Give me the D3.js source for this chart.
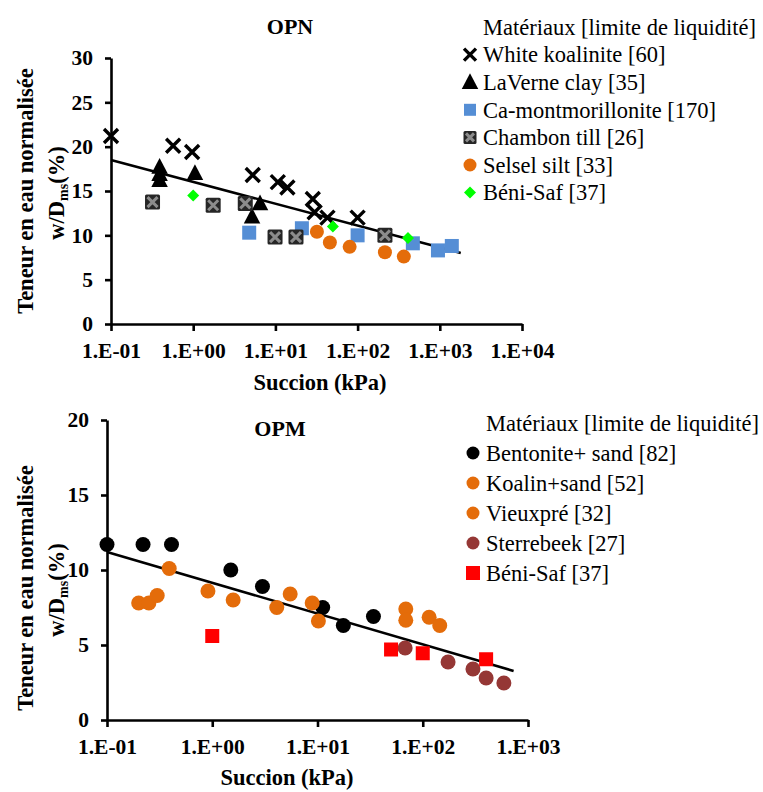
<!DOCTYPE html>
<html>
<head>
<meta charset="utf-8">
<script src="https://cdn.jsdelivr.net/npm/d3@7"></script>
<style>
  body { margin: 0; background: #fff; }
  text { font-family: "Liberation Serif", "Times New Roman", serif; }
</style>
</head>
<body>
<svg id="chart" width="763" height="792"></svg>
<script>
// OPN data : [succion kPa, w/Dms %]
const whiteKoalinite = [[0.1,21.2],[0.57,20.1],[0.97,19.4],[5.3,16.8],[10.7,16.0],[14,15.4],[28.5,14.1],[30,12.6],[43,12.0],[100,12.0]];
const laverneClay = [[0.39,17.7],[0.39,16.9],[0.39,16.2],[1.05,17.0],[6.5,13.6],[5.2,12.1]];
const caMontmorillonite = [[4.8,10.3],[21,10.8],[100,10.0],[470,9.1],[950,8.3],[1400,8.8]];
const chambonTill = [[0.32,13.75],[1.75,13.4],[4.3,13.6],[9.9,9.8],[17.8,9.8],[215,10.0]];
const selselSilt = [[32,10.4],[46,9.2],[80,8.7],[215,8.1],[365,7.6]];
const beniSafN = [[1.0,14.5],[50,11.0],[410,9.7]];
const trendN = [[0.1,18.5],[1800,8.0]];

// OPM data
const bentoniteSand = [[0.1,11.7],[0.22,11.7],[0.41,11.7],[1.5,10.0],[3.0,8.9],[11.2,7.5],[17.6,6.3],[34,6.9]];
const koalinSand = [[0.2,7.8],[0.25,7.8],[0.3,8.3],[0.39,10.1],[0.91,8.6],[1.58,8.0]];
const vieuxpre = [[4.1,7.5],[5.5,8.4],[8.9,7.8],[10.2,6.6],[69,7.4],[69,6.65],[115,6.85],[145,6.3]];
const sterrebeek = [[68,4.8],[174,3.87],[300,3.4],[400,2.8],[590,2.47]];
const beniSafM = [[1.0,5.6],[50,4.7],[100,4.45],[400,4.05]];
const trendM = [[0.1,11.2],[730,3.27]];

const ticksN_y = [0,5,10,15,20,25,30];
const ticksN_x = [0.1,1,10,100,1000,10000];
const ticksM_y = [0,5,10,15,20];
const ticksM_x = [0.1,1,10,100,1000];

const legendTitle = "Matériaux [limite de liquidité]";

const svg = d3.select('#chart');

const expFmt = v => {
  const e = Math.round(Math.log10(v));
  return "1.E" + (e < 0 ? "-" : "+") + String(Math.abs(e)).padStart(2, "0");
};

// marker drawing
const drawMarker = (g, type, color, size) => {
  const s = size;
  if (type === 'x') {
    g.append('path')
      .attr('d', `M${-s/2},${-s/2}L${s/2},${s/2}M${s/2},${-s/2}L${-s/2},${s/2}`)
      .attr('stroke', color).attr('stroke-width', 3.4).attr('fill', 'none');
  } else if (type === 'chambon') {
    g.append('rect').attr('x', -s/2).attr('y', -s/2).attr('width', s).attr('height', s)
      .attr('fill', '#262626').attr('rx', 1.5);
    const k = s/2 - 2.5;
    g.append('path')
      .attr('d', `M${-k},${-k}L${k},${k}M${k},${-k}L${-k},${k}`)
      .attr('stroke', '#8c8c8c').attr('stroke-width', 3).attr('fill', 'none');
  } else if (type === 'triangle') {
    g.append('path')
      .attr('d', `M0,${-s*0.6}L${s*0.55},${s*0.45}L${-s*0.55},${s*0.45}Z`)
      .attr('fill', color);
  } else if (type === 'square') {
    g.append('rect').attr('x', -s/2).attr('y', -s/2).attr('width', s).attr('height', s)
      .attr('fill', color);
  } else if (type === 'diamond') {
    g.append('path')
      .attr('d', `M0,${-s/2}L${s/2},0L0,${s/2}L${-s/2},0Z`)
      .attr('fill', color);
  } else if (type === 'circle') {
    g.append('circle').attr('r', s/2).attr('fill', color);
  }
};

const drawPanel = (p) => {
  const x = d3.scaleLog().domain(p.xDomain).range(p.xRange);
  const y = d3.scaleLinear().domain(p.yDomain).range(p.yRange);
  const g = svg.append('g');

  // axes
  const yAxis = g.append('g')
    .attr('transform', `translate(${p.xRange[0]},0)`)
    .call(d3.axisLeft(y).tickValues(p.yTicks).tickSize(6).tickPadding(12).tickSizeOuter(0));
  const xAxis = g.append('g')
    .attr('transform', `translate(0,${p.yRange[0]})`)
    .call(d3.axisBottom(x).tickValues(p.xTicks).tickFormat(expFmt).tickSize(7).tickPadding(12).tickSizeOuter(0));
  [xAxis, yAxis].forEach(a => {
    a.selectAll('path, line').attr('stroke', '#000').attr('stroke-width', 2.6);
    a.selectAll('text').attr('font-family', '"Liberation Serif", serif')
      .attr('font-weight', 'bold').attr('font-size', 21.5).attr('fill', '#000');
  });

  // trend line
  g.append('path')
    .datum(p.trend)
    .attr('d', d3.line().x(d => x(d[0])).y(d => y(d[1])))
    .attr('stroke', '#000').attr('stroke-width', 2.6).attr('fill', 'none');

  // points
  p.series.forEach(s => {
    s.data.forEach(d => {
      const m = g.append('g').attr('transform', `translate(${x(d[0])},${y(d[1])})`);
      drawMarker(m, s.type, s.color, s.size);
    });
  });

  // titles
  g.append('text').attr('x', p.titleX).attr('y', p.titleY)
    .attr('text-anchor', 'middle').attr('font-weight', 'bold').attr('font-size', 22)
    .text(p.title);
  g.append('text').attr('x', p.xTitleX).attr('y', p.xTitleY)
    .attr('text-anchor', 'middle').attr('font-weight', 'bold').attr('font-size', 22.5)
    .text('Succion (kPa)');
  g.append('text')
    .attr('transform', `translate(33,${p.yTitleY}) rotate(-90)`)
    .attr('text-anchor', 'middle').attr('font-weight', 'bold').attr('font-size', 22.5)
    .text('Teneur en eau normalisée');
  const yt2 = g.append('text')
    .attr('transform', `translate(64,${p.yTitleY + 2}) rotate(-90)`)
    .attr('text-anchor', 'middle').attr('font-weight', 'bold').attr('font-size', 22.5);
  yt2.append('tspan').text('w/D');
  yt2.append('tspan').attr('font-size', 14).attr('dy', 4).text('ms');
  yt2.append('tspan').attr('dy', -4).text('(%)');

  // legend
  const lg = g.append('g').attr('transform', `translate(${p.legendX},${p.legendY})`);
  lg.append('text').attr('x', 13).attr('y', 0).attr('dy', '0.35em')
    .attr('font-size', 22.5).text(legendTitle);
  p.series.forEach((s, i) => {
    const row = lg.append('g').attr('transform', `translate(0,${(i + 1) * p.legendStep})`);
    const m = row.append('g');
    drawMarker(m, s.type, s.color, s.legendSize);
    row.append('text').attr('x', 13).attr('y', 0).attr('dy', '0.35em')
      .attr('font-size', 22.5).text(s.name);
  });
};

drawPanel({
  title: 'OPN', titleX: 290, titleY: 34,
  xDomain: [0.1, 10000], xRange: [111, 522],
  yDomain: [0, 30], yRange: [324, 58],
  xTicks: ticksN_x, yTicks: ticksN_y,
  xTitleX: 320, xTitleY: 390, yTitleY: 191,
  trend: trendN,
  legendX: 470, legendY: 27, legendStep: 27.6,
  series: [
    {name: 'White koalinite [60]', type: 'x', color: '#000', size: 14, legendSize: 12, data: whiteKoalinite},
    {name: 'LaVerne clay [35]', type: 'triangle', color: '#000', size: 15, legendSize: 15, data: laverneClay},
    {name: 'Ca-montmorillonite [170]', type: 'square', color: '#558ed5', size: 14, legendSize: 12, data: caMontmorillonite},
    {name: 'Chambon till [26]', type: 'chambon', color: '#262626', size: 15, legendSize: 13, data: chambonTill},
    {name: 'Selsel silt [33]', type: 'circle', color: '#e46c0a', size: 14, legendSize: 13, data: selselSilt},
    {name: 'Béni-Saf [37]', type: 'diamond', color: '#00ff00', size: 12, legendSize: 12, data: beniSafN}
  ]
});

drawPanel({
  title: 'OPM', titleX: 280, titleY: 436,
  xDomain: [0.1, 1000], xRange: [107, 528],
  yDomain: [0, 20], yRange: [720, 420],
  xTicks: ticksM_x, yTicks: ticksM_y,
  xTitleX: 287, xTitleY: 785, yTitleY: 588,
  trend: trendM,
  legendX: 473, legendY: 423, legendStep: 30,
  series: [
    {name: 'Bentonite+ sand [82]', type: 'circle', color: '#000', size: 15, legendSize: 13, data: bentoniteSand},
    {name: 'Koalin+sand [52]', type: 'circle', color: '#e46c0a', size: 15, legendSize: 13, data: koalinSand},
    {name: 'Vieuxpré [32]', type: 'circle', color: '#e46c0a', size: 15, legendSize: 13, data: vieuxpre},
    {name: 'Sterrebeek  [27]', type: 'circle', color: '#953735', size: 15, legendSize: 13, data: sterrebeek},
    {name: 'Béni-Saf [37]', type: 'square', color: '#ff0000', size: 14, legendSize: 14, data: beniSafM}
  ]
});
</script>
</body>
</html>
